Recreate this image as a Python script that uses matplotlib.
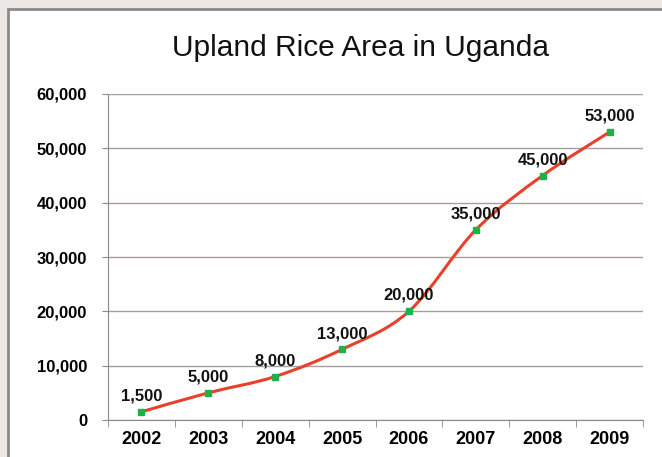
import numpy as np
import matplotlib.pyplot as plt
from matplotlib.path import Path
from matplotlib.patches import PathPatch, Rectangle

years = ['2002', '2003', '2004', '2005', '2006', '2007', '2008', '2009']
area = [1500, 5000, 8000, 13000, 20000, 35000, 45000, 53000]
yticks = [0, 10000, 20000, 30000, 40000, 50000, 60000]

plt.rcParams['font.family'] = ['Liberation Sans', 'DejaVu Sans']

fig = plt.figure(figsize=(6.62, 4.57), dpi=100)
fig.patch.set_facecolor('#ebe8e3')

# white chart panel with grey frame
fig.patches.append(Rectangle((8 / 662, -0.05), 1.0, 1 - 9 / 457 + 0.05,
                             transform=fig.transFigure, facecolor='white',
                             edgecolor='#8a8a8a', linewidth=2, zorder=-5))

ax = fig.add_axes([108 / 662, 1 - 420 / 457, 535 / 662, 326 / 457])
ax.set_facecolor('white')
ax.set_zorder(2)

x = np.arange(len(years))
y = np.array(area, dtype=float)

# smoothed line (catmull-rom -> bezier, like Excel's smoothed line)
verts = [(x[0], y[0])]
codes = [Path.MOVETO]
n = len(x)
for i in range(n - 1):
    p0 = (x[max(i - 1, 0)], y[max(i - 1, 0)])
    p1 = (x[i], y[i])
    p2 = (x[i + 1], y[i + 1])
    p3 = (x[min(i + 2, n - 1)], y[min(i + 2, n - 1)])
    c1 = (p1[0] + (p2[0] - p0[0]) / 6, p1[1] + (p2[1] - p0[1]) / 6)
    c2 = (p2[0] - (p3[0] - p1[0]) / 6, p2[1] - (p3[1] - p1[1]) / 6)
    verts += [c1, c2, p2]
    codes += [Path.CURVE4] * 3
ax.add_patch(PathPatch(Path(verts, codes), facecolor='none',
                       edgecolor='#e8402a', linewidth=2.2, zorder=3))
ax.plot(x, y, linestyle='none', marker='s', markersize=4.5,
        color='#1fb04c', zorder=4)

for xi, yi in zip(x, area):
    ax.annotate(f'{yi:,}', (xi, yi), xytext=(0, 6), textcoords='offset points',
                ha='center', va='bottom', fontsize=12, fontweight='bold',
                color='#111111', zorder=5)

ax.set_xlim(-0.5, n - 0.5)
ax.set_ylim(0, 60000)
ax.set_yticks(yticks)
ax.set_yticklabels([f'{v:,}' for v in yticks], fontsize=12, fontweight='bold')
ax.set_xticks(x)
ax.set_xticklabels(years, fontsize=13, fontweight='bold')
ax.set_xticks(np.arange(-0.5, n, 1), minor=True)
ax.tick_params(axis='x', which='major', length=0, pad=8)
ax.tick_params(axis='x', which='minor', length=5, color='#8a8a8a')
ax.tick_params(axis='y', length=4, color='#8a8a8a', pad=11)
ax.grid(axis='y', color='#aa9c9c', linewidth=1)
ax.set_axisbelow(True)
for s in ['top', 'right']:
    ax.spines[s].set_visible(False)
ax.spines['left'].set_color('#8a8a8a')
ax.spines['bottom'].set_color('#8a8a8a')

fig.text(361 / 662, 1 - 48 / 457, 'Upland Rice Area in Uganda', ha='center',
         va='center', fontsize=21.5, color='#111111')

fig.savefig('out.png', dpi=100, facecolor=fig.get_facecolor())
